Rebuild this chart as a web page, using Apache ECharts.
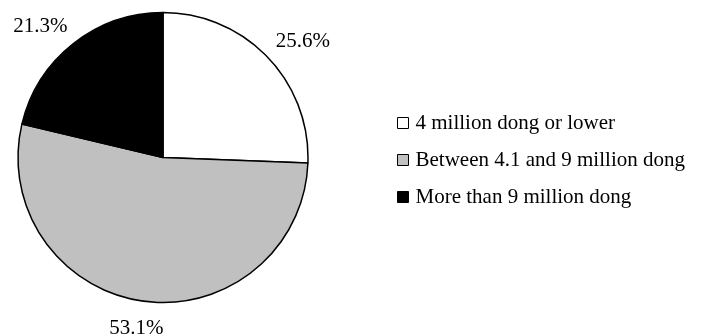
<!DOCTYPE html>
<html>
<head>
<meta charset="utf-8">
<script src="https://cdn.jsdelivr.net/npm/echarts@6/dist/echarts.min.js"></script>
<style>html,body{margin:0;padding:0;background:#fff;}#c{width:713px;height:335px;}</style>
</head>
<body>
<div id="c"></div>
<script>
const categories = ['4 million dong or lower', 'Between 4.1 and 9 million dong', 'More than 9 million dong'];
const values = [25.6, 53.1, 21.3];
const labels = ['25.6%', '53.1%', '21.3%'];

const sliceColors = ['#ffffff', '#c0c0c0', '#000000'];
const labelShift = [[8, 11], [-2, -10], [-9, 13]];
const FONT = '"Liberation Serif", "Times New Roman", serif';

const chart = echarts.init(document.getElementById('c'), null, {renderer: 'canvas'});
const mainData = categories.map((n, i) => ({name: n, value: values[i], itemStyle: {color: sliceColors[i]}}));
const labelData = categories.map((n, i) => ({name: n, value: values[i]}));

chart.setOption({
  animation: false,
  backgroundColor: '#ffffff',
  legend: {
    orient: 'vertical',
    left: 392,
    top: 107,
    itemWidth: 11,
    itemHeight: 11,
    itemGap: 15,
    icon: 'rect',
    data: categories,
    itemStyle: {borderColor: '#000', borderWidth: 1},
    textStyle: {fontFamily: FONT, fontSize: 21, color: '#000', lineHeight: 22, padding: [0, 0, 0, 2]}
  },
  series: [
    {
      type: 'pie',
      center: [163, 157.5],
      radius: 145,
      startAngle: 90,
      clockwise: true,
      silent: true,
      data: mainData,
      itemStyle: {borderColor: '#000', borderWidth: 1.5},
      label: {show: false},
      labelLine: {show: false}
    },
    {
      type: 'pie',
      center: [163, 157.5],
      radius: [175, 185],
      startAngle: 90,
      clockwise: true,
      silent: true,
      data: labelData,
      itemStyle: {color: 'rgba(0,0,0,0)', borderWidth: 0},
      label: {
        show: true,
        position: 'inside',
        formatter: p => labels[p.dataIndex],
        fontFamily: FONT,
        fontSize: 21,
        color: '#000'
      },
      labelLine: {show: false},
      labelLayout: p => ({dx: labelShift[p.dataIndex][0], dy: labelShift[p.dataIndex][1]})
    }
  ]
});
</script>
</body>
</html>
